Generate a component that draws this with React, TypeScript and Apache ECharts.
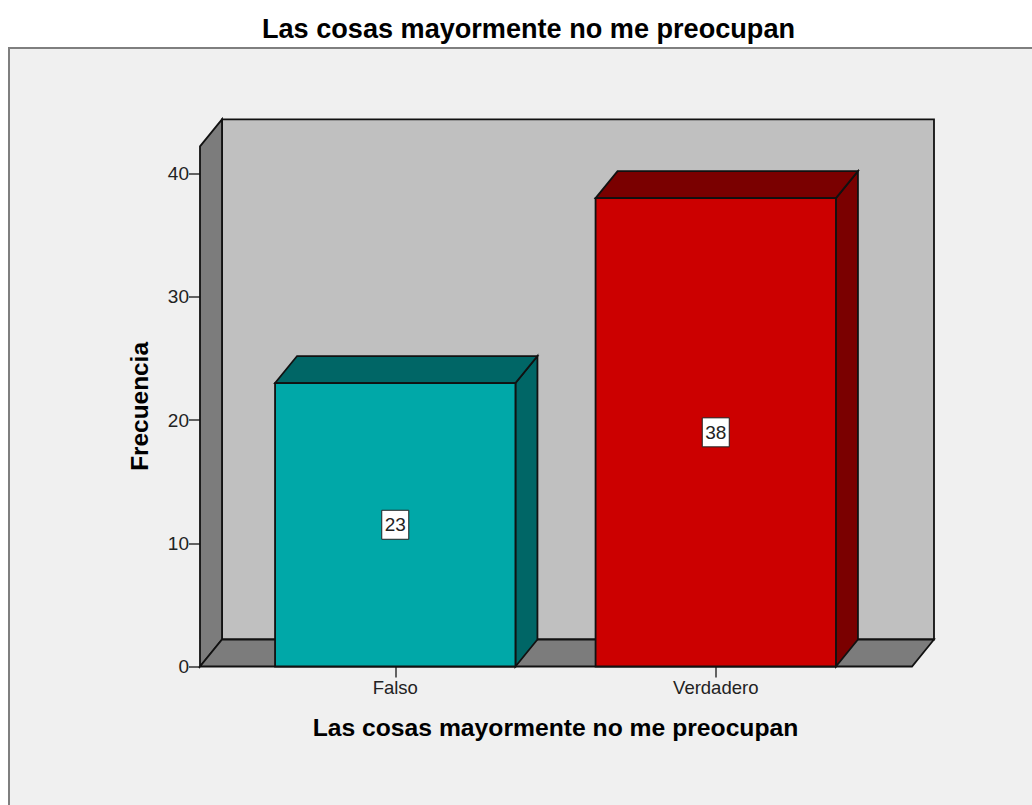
import React, { useEffect, useRef } from "react";
import * as echarts from "echarts";

const chartTitle = "Las cosas mayormente no me preocupan";
const xAxisName = "Las cosas mayormente no me preocupan";
const yAxisName = "Frecuencia";
const categories = ["Falso", "Verdadero"];
const values = [23, 38];
const yTicks = [0, 10, 20, 30, 40];
const frontColors = ["#00a8a8", "#cc0000"];
const darkColors = ["#006666", "#7a0000"];

const FONT = "'Liberation Sans', Arial, sans-serif";
const DX = 22;
const DY = -27;
const LINE = "#111111";
const LW = 1.8;

export default function App() {
  const ref = useRef<HTMLDivElement>(null);
  useEffect(() => {
    const chart = echarts.init(ref.current!, null, { renderer: "svg" });
    const wallStyle = (fill: string) => ({ fill, stroke: LINE, lineWidth: LW });
    chart.setOption({
      animation: false,
      backgroundColor: "#ffffff",
      title: {
        text: chartTitle,
        left: 523.5,
        top: 10,
        textAlign: "center",
        textStyle: { fontFamily: FONT, fontSize: 27.1, fontWeight: "bold", color: "#000" },
      },
      graphic: [
        {
          type: "rect",
          z: -10,
          shape: { x: 9, y: 48, width: 1040, height: 780 },
          style: { fill: "#f0f0f0", stroke: "#7f7f7f", lineWidth: 2 },
        },
      ],
      grid: { left: 235, top: 146.4, width: 641, height: 520.1 },
      xAxis: {
        type: "category",
        data: categories,
        name: xAxisName,
        nameLocation: "middle",
        nameGap: 48,
        nameTextStyle: { fontFamily: FONT, fontSize: 24.7, fontWeight: "bold", color: "#000" },
        axisLine: { show: false },
        axisTick: { show: true, alignWithLabel: true, length: 11, lineStyle: { color: "#333", width: 1.5 } },
        axisLabel: { fontFamily: FONT, fontSize: 18.5, color: "#222", margin: 11 },
      },
      yAxis: {
        type: "value",
        min: 0,
        max: 42.2,
        offset: 35,
        name: yAxisName,
        nameLocation: "middle",
        nameGap: 49,
        nameTextStyle: { fontFamily: FONT, fontSize: 24.4, fontWeight: "bold", color: "#000" },
        splitLine: { show: false },
        axisLine: { show: false },
        axisTick: { show: true, length: 11, customValues: yTicks, lineStyle: { color: "#333", width: 1.5 } },
        axisLabel: { fontFamily: FONT, fontSize: 19, color: "#222", margin: 11, customValues: yTicks },
      },
      series: [
        {
          type: "custom",
          coordinateSystem: "cartesian2d",
          clip: false,
          silent: true,
          z: 1,
          data: [[0, 0]],
          renderItem: (params: any) => {
            const c = params.coordSys;
            const l = c.x - 35;
            const r = c.x + c.width + 36;
            const t = c.y;
            const b = c.y + c.height;
            return {
              type: "group",
              children: [
                {
                  type: "polygon",
                  shape: { points: [[l + DX, t + DY], [r + DX, t + DY], [r + DX, b + DY], [l + DX, b + DY]] },
                  style: wallStyle("#c0c0c0"),
                },
                {
                  type: "polygon",
                  shape: { points: [[l, t], [l + DX, t + DY], [l + DX, b + DY], [l, b]] },
                  style: wallStyle("#7c7c7c"),
                },
                {
                  type: "polygon",
                  shape: { points: [[l, b], [l + DX, b + DY], [r + DX, b + DY], [r, b]] },
                  style: wallStyle("#7c7c7c"),
                },
              ],
            };
          },
        },
        {
          type: "custom",
          coordinateSystem: "cartesian2d",
          clip: false,
          silent: true,
          z: 3,
          encode: { x: 0, y: 1 },
          data: values.map((v, i) => [i, v]),
          renderItem: (params: any, api: any) => {
            const i = api.value(0);
            const v = api.value(1);
            const top = api.coord([i, v]);
            const base = api.coord([i, 0]);
            const w = api.size([1, 0])[0] * 0.75;
            const l = top[0] - w / 2;
            const r = top[0] + w / 2;
            const t = top[1];
            const b = base[1];
            const my = (t + b) / 2;
            const st = (fill: string) => ({ fill, stroke: LINE, lineWidth: LW });
            return {
              type: "group",
              children: [
                {
                  type: "polygon",
                  shape: { points: [[r, t], [r + DX, t + DY], [r + DX, b + DY], [r, b]] },
                  style: st(darkColors[i]),
                },
                {
                  type: "polygon",
                  shape: { points: [[l, t], [l + DX, t + DY], [r + DX, t + DY], [r, t]] },
                  style: st(darkColors[i]),
                },
                {
                  type: "polygon",
                  shape: { points: [[l, t], [r, t], [r, b], [l, b]] },
                  style: st(frontColors[i]),
                },
                {
                  type: "rect",
                  shape: { x: top[0] - 13.5, y: my - 14.5, width: 27, height: 29 },
                  style: { fill: "#ffffff", stroke: "#222222", lineWidth: 1 },
                },
                {
                  type: "text",
                  x: top[0],
                  y: my,
                  style: {
                    text: String(v),
                    align: "center",
                    verticalAlign: "middle",
                    fontFamily: FONT,
                    fontSize: 19,
                    fill: "#222",
                  },
                },
              ],
            };
          },
        },
      ],
    });
    return () => chart.dispose();
  }, []);
  return (
    <div
      ref={ref}
      style={{ position: "fixed", left: 0, top: 0, width: 1032, height: 805 }}
    />
  );
}
